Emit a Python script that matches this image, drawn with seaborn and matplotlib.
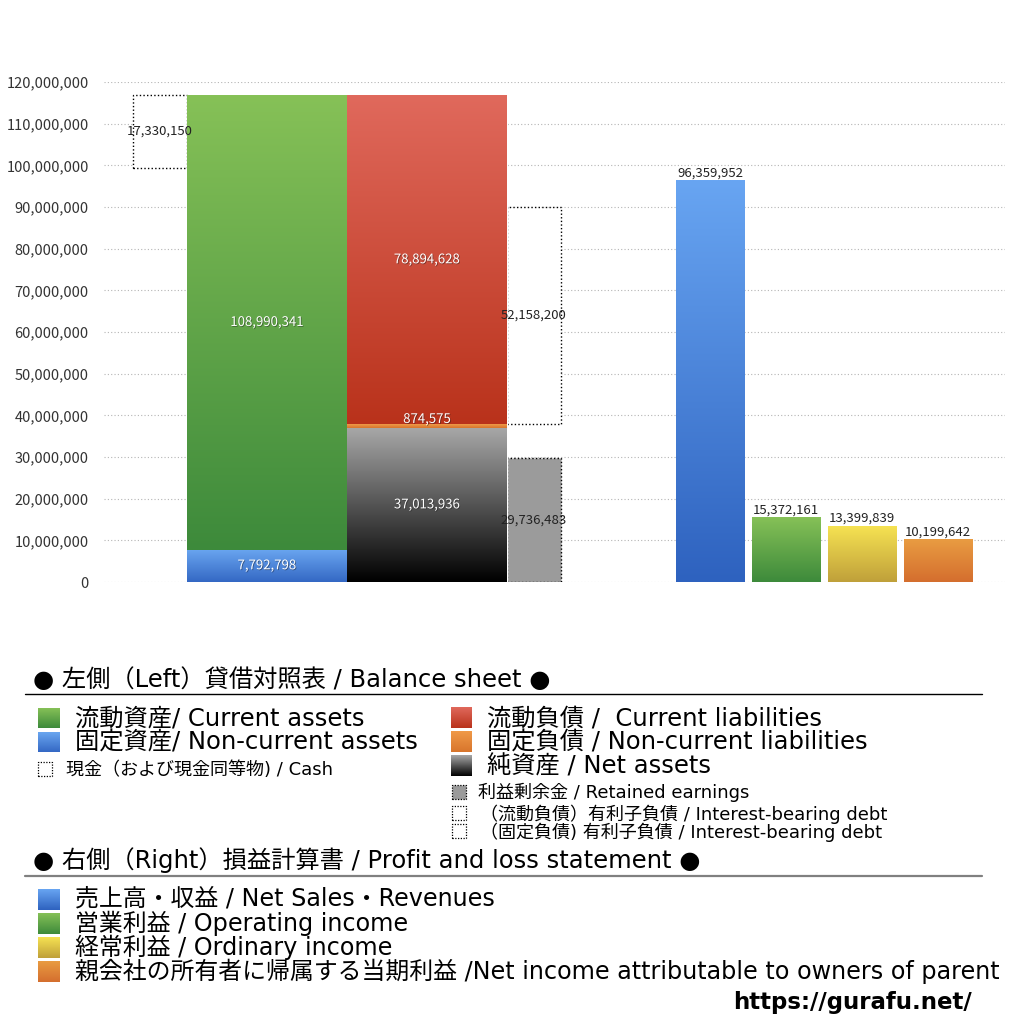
import numpy as np
import pandas as pd
import matplotlib
matplotlib.use("Agg")
import matplotlib.pyplot as plt
import seaborn as sns
from matplotlib.colors import LinearSegmentedColormap
from matplotlib.patches import Rectangle
import matplotlib.patheffects as pe
from matplotlib.ticker import FuncFormatter

# ---------------- data ----------------
asset_labels = ["固定資産", "流動資産"]            # stacked bottom -> top
asset_values = [7792798, 108990341]
liab_labels = ["純資産", "固定負債", "流動負債"]    # stacked bottom -> top
liab_values = [37013936, 874575, 78894628]
cash_value = 17330150
retained_value = 29736483
debt_current_value = 52158200

pl_labels = ["売上高・収益", "営業利益", "経常利益", "親会社の所有者に帰属する当期利益"]
pl_values = [96359952, 15372161, 13399839, 10199642]

y_ticks = list(range(0, 120000001, 10000000))

bs_header = "● 左側（Left）貸借対照表 / Balance sheet ●"
pl_header = "● 右側（Right）損益計算書 / Profit and loss statement ●"
bs_legend_left = ["流動資産/ Current assets", "固定資産/ Non-current assets"]
bs_cash_legend = "現金（および現金同等物) / Cash"
bs_legend_right = ["流動負債 /  Current liabilities", "固定負債 / Non-current liabilities", "純資産 / Net assets"]
bs_small_right = ["利益剰余金 / Retained earnings",
                  "（流動負債）有利子負債 / Interest-bearing debt",
                  "（固定負債) 有利子負債 / Interest-bearing debt"]
pl_legend = ["売上高・収益 / Net Sales・Revenues", "営業利益 / Operating income",
             "経常利益 / Ordinary income",
             "親会社の所有者に帰属する当期利益 /Net income attributable to owners of parent"]
url_text = "https://gurafu.net/"

# ---------------- style / layout ----------------
sns.set_theme(style="white")
plt.rcParams["font.family"] = ["Noto Sans CJK JP", "DejaVu Sans"]
LEG_FONT = ["DejaVu Sans", "Noto Sans CJK JP"]

asset_grad = [("#6aa6f0", "#3468c4"), ("#86c157", "#3d8a3b")]
liab_grad = [("#a8a8a8", "#000000"), ("#f09a48", "#d8752c"), ("#e0695c", "#b9321b")]
pl_grad = [("#68a5f2", "#2e62bf"), ("#86c157", "#3d8a3b"),
           ("#f6e252", "#bfa03a"), ("#e99c42", "#d46e2e")]

cash_x, asset_x, liab_x, box_x = 0.56, 1.63, 3.23, 4.295
side_w, main_w = 0.54, 1.60
pl_pos = [6.06, 6.82, 7.58, 8.34]
dot = (0, (1, 1.6))
VAL_FS = 9.5
BIG_FS = 17.5
PL_FS = 17.2
SMALL_FS = 13

fig = plt.figure(figsize=(10.24, 10.24), dpi=100)
ax = fig.add_axes([104 / 1024, 1 - 582 / 1024, 901 / 1024, 500 / 1024])


def grad(axis, x0, x1, y0, y1, top, bottom, z):
    cmap = LinearSegmentedColormap.from_list("g", [top, bottom])
    axis.imshow(np.linspace(0, 1, 256)[:, None], cmap=cmap, extent=[x0, x1, y0, y1],
                origin="upper", aspect="auto", zorder=z, interpolation="bilinear")


shadow = [pe.withSimplePatchShadow(offset=(0.6, -0.6), shadow_rgbFace="k", alpha=0.45)]

# stacked assets
bottoms = np.concatenate([[0], np.cumsum(asset_values)[:-1]])
for v, b, (t, bt) in zip(asset_values, bottoms, asset_grad):
    bar = ax.bar(asset_x, v, width=main_w, bottom=b, color=t, zorder=2)[0]
    grad(ax, bar.get_x(), bar.get_x() + bar.get_width(), b, b + v, t, bt, 2.1)
    ax.text(asset_x, b + v / 2, f"{v:,}", ha="center", va="center", color="white",
            fontsize=VAL_FS, zorder=5, path_effects=shadow)
asset_total = sum(asset_values)

# stacked liabilities / net assets
bottoms = np.concatenate([[0], np.cumsum(liab_values)[:-1]])
for i, (v, b, (t, bt)) in enumerate(zip(liab_values, bottoms, liab_grad)):
    bar = ax.bar(liab_x, v, width=main_w, bottom=b, color=t, zorder=2)[0]
    grad(ax, bar.get_x(), bar.get_x() + bar.get_width(), b, b + v, t, bt, 2.1)
    ax.text(liab_x, b + v / 2, f"{v:,}", ha="center",
            va="bottom" if i == 1 else "center", color="white",
            fontsize=VAL_FS, zorder=5, path_effects=shadow)

# cash box (top of assets)
ax.bar(cash_x, cash_value, width=side_w, bottom=asset_total - cash_value, color="white",
       edgecolor="black", linestyle=dot, linewidth=1, zorder=1.5)
ax.text(cash_x, asset_total - cash_value / 2, f"{cash_value:,}", ha="center", va="center",
        color="#222222", fontsize=VAL_FS, zorder=5)

# retained earnings box
ax.bar(box_x, retained_value, width=side_w, bottom=0, color="#9b9b9b",
       edgecolor="black", linestyle=dot, linewidth=1, zorder=1.5)
ax.text(box_x, retained_value / 2, f"{retained_value:,}", ha="center", va="center",
        color="#222222", fontsize=VAL_FS, zorder=5)

# interest-bearing debt box (bottom of current liabilities)
debt_bottom = liab_values[0] + liab_values[1]
ax.bar(box_x, debt_current_value, width=side_w, bottom=debt_bottom, color="white",
       edgecolor="black", linestyle=dot, linewidth=1, zorder=1.5)
ax.text(box_x, debt_bottom + debt_current_value / 2, f"{debt_current_value:,}",
        ha="center", va="center", color="#222222", fontsize=VAL_FS, zorder=5)

# profit & loss bars via seaborn
df = pd.DataFrame({"pos": pl_pos, "value": pl_values, "label": pl_labels})
n_before = len(ax.patches)
sns.barplot(data=df, x="pos", y="value", native_scale=True, width=0.9, color="#cccccc",
            errorbar=None, ax=ax, zorder=2, saturation=1)
pl_patches = sorted(ax.patches[n_before:], key=lambda p: p.get_x())
for p, v, (t, bt) in zip(pl_patches, pl_values, pl_grad):
    p.set_facecolor(t)
    p.set_edgecolor("none")
    grad(ax, p.get_x(), p.get_x() + p.get_width(), 0, v, t, bt, 2.1)
    ax.text(p.get_x() + p.get_width() / 2, v + 300000, f"{v:,}", ha="center", va="bottom",
            color="#222222", fontsize=VAL_FS, zorder=5)

ax.set_xlim(0, 9.01)
ax.set_ylim(0, 120000000)
ax.set_yticks(y_ticks)
ax.yaxis.set_major_formatter(FuncFormatter(lambda v, _: f"{int(v):,}"))
ax.set_xticks([])
ax.set_xlabel("")
ax.set_ylabel("")
ax.tick_params(axis="y", length=0, pad=11, labelsize=10.5, labelcolor="#333333")
ax.yaxis.grid(True, linestyle=(0, (1, 2)), color="#b5b5b5", linewidth=0.8)
ax.set_axisbelow(True)
for s in ax.spines.values():
    s.set_visible(False)

# ---------------- legend overlay (pixel coordinates) ----------------
lax = fig.add_axes([0, 0, 1, 1], zorder=10)
lax.set_xlim(0, 1024)
lax.set_ylim(0, 1024)
lax.axis("off")
lax.patch.set_alpha(0)


def Y(py):
    return 1024 - py


def swatch(x0, y0, x1, y1, top, bottom):
    grad(lax, x0, x1, Y(y1), Y(y0), top, bottom, 11)


def dotbox(x0, y0, x1, y1, fc="white"):
    lax.add_patch(Rectangle((x0, Y(y1)), x1 - x0, y1 - y0, facecolor=fc, edgecolor="black",
                            linestyle=(0, (1, 1.2)), linewidth=0.9, zorder=11))


def txt(x, y, s, size, **kw):
    lax.text(x, Y(y), s, ha="left", va="center", fontsize=size, color="black", zorder=12,
             family=LEG_FONT, **kw)


txt(33, 680, bs_header, BIG_FS)
lax.plot([25, 982], [Y(694), Y(694)], color="black", lw=1)

swatch(38, 708, 60, 728, *asset_grad[1])
swatch(38, 732, 60, 752, *asset_grad[0])
for i, s in enumerate(bs_legend_left):
    txt(75, 718 + 24 * i, s, BIG_FS)
dotbox(38, 762, 52, 776)
txt(66, 770, bs_cash_legend, SMALL_FS)

swatch(451, 707, 472, 728, *liab_grad[2])
swatch(451, 731, 472, 752, *liab_grad[1])
swatch(451, 755, 472, 776, *liab_grad[0])
for i, s in enumerate(bs_legend_right):
    txt(487, 718 + 24 * i, s, BIG_FS)
dotbox(452, 785, 466, 799, fc="#9b9b9b")
txt(478, 792, bs_small_right[0], SMALL_FS)
dotbox(452, 806, 466, 820)
txt(480, 814, bs_small_right[1], SMALL_FS)
dotbox(452, 824, 466, 838)
txt(480, 832, bs_small_right[2], SMALL_FS)

txt(33, 860, pl_header, BIG_FS)
lax.plot([25, 982], [Y(876), Y(876)], color="#808080", lw=1.6)

for i, (s, (t, bt)) in enumerate(zip(pl_legend, pl_grad)):
    swatch(38, 889 + 24 * i, 60, 910 + 24 * i, t, bt)
    txt(75, 899 + 24 * i, s, PL_FS)

lax.text(972, Y(1003), url_text, ha="right", va="center", fontsize=16.5, fontweight="bold",
         color="black", zorder=12, family=LEG_FONT)

fig.savefig("out.png", dpi=100)
